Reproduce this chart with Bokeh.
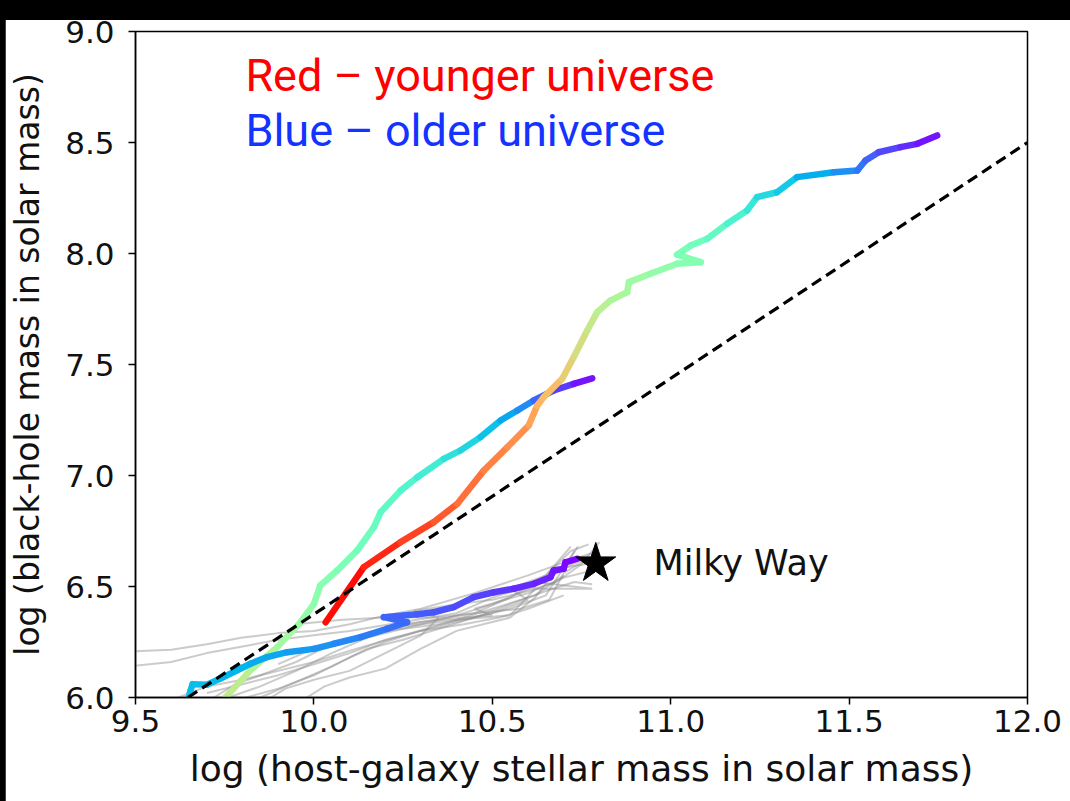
import math
from bokeh.plotting import figure
from bokeh.models import Label, Spacer, FixedTicker, PrintfTickFormatter, InlineStyleSheet
from bokeh.layouts import row
from bokeh.embed import file_html
from bokeh.resources import INLINE

# ---------------- data ----------------
x_ticks = [9.5, 10.0, 10.5, 11.0, 11.5, 12.0]
y_ticks = [6.0, 6.5, 7.0, 7.5, 8.0, 8.5, 9.0]

# track 1: red start -> purple end (largest galaxy)
t1_x = [10.033, 10.140, 10.243, 10.336, 10.402, 10.476, 10.542, 10.602, 10.626, 10.644,
        10.696, 10.728, 10.766, 10.794, 10.831, 10.878, 10.883, 10.943, 11.018, 11.084,
        11.018, 11.056, 11.102, 11.158, 11.214, 11.242, 11.298, 11.354, 11.457, 11.523,
        11.546, 11.583, 11.644, 11.691, 11.747]
t1_y = [6.339, 6.587, 6.700, 6.790, 6.873, 7.022, 7.127, 7.225, 7.315, 7.353,
        7.436, 7.533, 7.653, 7.736, 7.788, 7.826, 7.871, 7.909, 7.954, 7.961,
        7.995, 8.036, 8.066, 8.134, 8.194, 8.254, 8.276, 8.344, 8.366, 8.374,
        8.419, 8.456, 8.479, 8.494, 8.532]
t1_age = [1.0, 0.97, 0.93, 0.90, 0.87, 0.84, 0.82, 0.80, 0.76, 0.74,
          0.72, 0.68, 0.65, 0.62, 0.60, 0.58, 0.57, 0.55, 0.52, 0.51,
          0.50, 0.48, 0.46, 0.42, 0.38, 0.34, 0.31, 0.27, 0.21, 0.17,
          0.14, 0.11, 0.07, 0.04, 0.01]

# track 2: green from the bottom -> purple
t2_x = [9.744, 9.752, 9.822, 9.897, 9.962, 10.0, 10.018, 10.065, 10.121, 10.168,
        10.187, 10.243, 10.29, 10.364, 10.411, 10.467, 10.523, 10.57, 10.616, 10.672,
        10.728, 10.78]
t2_y = [5.964, 6.0, 6.122, 6.227, 6.338, 6.422, 6.505, 6.572, 6.662, 6.767,
        6.835, 6.932, 6.992, 7.075, 7.113, 7.173, 7.248, 7.293, 7.338, 7.383,
        7.413, 7.438]
t2_age = [0.65, 0.64, 0.61, 0.58, 0.55, 0.53, 0.52, 0.50, 0.48, 0.46,
          0.45, 0.42, 0.40, 0.36, 0.33, 0.30, 0.25, 0.21, 0.16, 0.10,
          0.05, 0.0]

# track 3: lower blue -> purple (Milky-Way-like)
t3_x = [9.645, 9.649, 9.654, 9.660, 9.70, 9.738, 9.822, 9.869, 9.925, 10.0,
        10.056, 10.131, 10.205, 10.261, 10.196, 10.29, 10.336, 10.392, 10.448, 10.504,
        10.56, 10.616, 10.663, 10.672, 10.70, 10.705, 10.738]
t3_y = [5.99, 6.001, 6.030, 6.060, 6.058, 6.085, 6.152, 6.182, 6.204, 6.219,
        6.242, 6.272, 6.309, 6.339, 6.362, 6.375, 6.384, 6.407, 6.452, 6.474,
        6.490, 6.512, 6.542, 6.572, 6.580, 6.609, 6.625]
t3_age = [0.28, 0.28, 0.27, 0.27, 0.26, 0.26, 0.24, 0.23, 0.22, 0.20,
          0.19, 0.17, 0.15, 0.14, 0.13, 0.12, 0.11, 0.10, 0.09, 0.08,
          0.06, 0.05, 0.04, 0.03, 0.02, 0.01, 0.0]

# grey tracks (other Milky-Way analogues)
grey_x = [
    [9.45, 9.6, 9.7, 9.8, 9.9, 10.0, 10.1, 10.2, 10.3, 10.45, 10.6, 10.72, 10.78],
    [9.45, 9.6, 9.7, 9.8, 9.9, 10.0, 10.1, 10.25, 10.4, 10.5, 10.6, 10.7, 10.75],
    [9.76, 9.85, 9.95, 10.05, 10.15, 10.3, 10.4, 10.5, 10.62, 10.7, 10.74],
    [9.81, 9.9, 10.0, 10.1, 10.2, 10.3, 10.45, 10.55, 10.65, 10.73, 10.78],
    [9.88, 9.92, 10.0, 10.1, 10.2, 10.3, 10.35, 10.45, 10.55, 10.65, 10.72],
    [9.98, 10.03, 10.1, 10.2, 10.3, 10.4, 10.5, 10.55, 10.62, 10.68, 10.76],
    [9.95, 10.08, 10.2, 10.35, 10.28, 10.4, 10.5, 10.6, 10.68, 10.75, 10.8],
    [9.7, 9.8, 9.9, 10.0, 10.1, 10.2, 10.3, 10.42, 10.52, 10.6, 10.7],
    [9.72, 9.78, 9.85, 9.95, 10.05, 10.15, 10.25, 10.4, 10.55, 10.62, 10.78, 10.62],
    [10.1, 10.2, 10.35, 10.5, 10.6, 10.55, 10.65, 10.72, 10.77],
    [9.9, 10.0, 10.1, 10.18, 10.3, 10.45, 10.58, 10.66, 10.7, 10.76],
    [9.62, 9.7, 9.8, 9.9, 10.0, 10.12, 10.25, 10.38, 10.5, 10.62, 10.7],
    [10.2, 10.3, 10.42, 10.5, 10.45, 10.6, 10.7, 10.8],
    [9.85, 9.95, 10.05, 10.15, 10.25, 10.35, 10.45, 10.55, 10.65, 10.73],
]
grey_y = [
    [6.205, 6.215, 6.24, 6.27, 6.29, 6.30, 6.33, 6.37, 6.40, 6.47, 6.55, 6.62, 6.65],
    [6.135, 6.16, 6.20, 6.23, 6.26, 6.28, 6.30, 6.34, 6.38, 6.45, 6.50, 6.58, 6.62],
    [6.0, 6.05, 6.12, 6.20, 6.27, 6.33, 6.37, 6.42, 6.50, 6.58, 6.68],
    [6.0, 6.04, 6.10, 6.18, 6.25, 6.30, 6.36, 6.42, 6.48, 6.52, 6.51],
    [6.0, 6.04, 6.08, 6.12, 6.20, 6.28, 6.36, 6.38, 6.45, 6.55, 6.68],
    [6.0, 6.05, 6.09, 6.13, 6.22, 6.30, 6.34, 6.36, 6.45, 6.58, 6.60],
    [6.33, 6.35, 6.36, 6.36, 6.39, 6.42, 6.44, 6.48, 6.52, 6.60, 6.70],
    [6.02, 6.06, 6.10, 6.15, 6.20, 6.26, 6.30, 6.33, 6.36, 6.40, 6.46],
    [6.0, 6.06, 6.10, 6.16, 6.24, 6.28, 6.32, 6.35, 6.37, 6.49, 6.49, 6.52],
    [6.25, 6.30, 6.33, 6.38, 6.44, 6.49, 6.55, 6.66, 6.69],
    [6.15, 6.22, 6.26, 6.30, 6.34, 6.38, 6.40, 6.44, 6.56, 6.62],
    [6.0, 6.05, 6.08, 6.12, 6.16, 6.22, 6.28, 6.34, 6.40, 6.46, 6.55],
    [6.32, 6.34, 6.36, 6.37, 6.40, 6.47, 6.54, 6.58],
    [6.0, 6.07, 6.14, 6.22, 6.26, 6.31, 6.36, 6.40, 6.46, 6.66],
]

# dashed reference relation
ref_x = [9.647, 12.0]
ref_y = [6.0, 8.5]

# Milky Way
mw_x = [10.79]
mw_y = [6.604]
mw_label = "Milky Way"

# annotations
note_x = [9.808, 9.808]
note_y = [8.80, 8.555]
note_text = ["Red \u2013 younger universe", "Blue \u2013 older universe"]
note_color = ["#ff0000", "#1433ff"]


def rainbow(t):
    r = min(1.0, abs(2 * t - 0.5))
    g = math.sin(math.pi * t)
    b = math.cos(math.pi * t / 2)
    return "#%02x%02x%02x" % (int(round(r * 255)), int(round(max(g, 0) * 255)), int(round(max(b, 0) * 255)))


# ---------------- figure ----------------
p = figure(width=1065, height=801, x_range=(9.5, 12.0), y_range=(6.0, 9.0),
           output_backend="svg", toolbar_location=None,
           min_border_left=130, min_border_right=43, min_border_top=31, min_border_bottom=104)
p.background_fill_color = "white"
p.border_fill_color = "white"
p.outline_line_color = "black"
p.outline_line_width = 1.5
p.grid.visible = False

for ax in (p.xaxis, p.yaxis):
    ax.axis_line_width = 1.5
    ax.major_tick_line_width = 1.5
    ax.major_tick_out = 7
    ax.major_tick_in = 0
    ax.minor_tick_line_color = None
    ax.major_label_text_font = "DejaVu Sans"
    ax.major_label_text_font_size = "31px"
    ax.major_label_text_color = "#111111"
    ax.axis_label_text_font = "DejaVu Sans"
    ax.axis_label_text_font_style = "normal"
    ax.axis_label_text_color = "#111111"
    ax.formatter = PrintfTickFormatter(format="%.1f")

p.xaxis.axis_label_text_font_size = "36px"
p.yaxis.axis_label_text_font_size = "33px"
p.xaxis.ticker = FixedTicker(ticks=x_ticks)
p.yaxis.ticker = FixedTicker(ticks=y_ticks)
p.xaxis.axis_label = "log (host-galaxy stellar mass in solar mass)"
p.yaxis.axis_label = "log (black-hole mass in solar mass)"
p.xaxis.major_label_standoff = 5
p.yaxis.major_label_standoff = 14
p.xaxis.axis_label_standoff = 13
p.yaxis.axis_label_standoff = 15

# grey tracks
p.multi_line(grey_x, grey_y, line_color="#8c8c8c", line_alpha=0.45, line_width=2)

# coloured tracks, segment by segment
for xs, ys, ages in ((t2_x, t2_y, t2_age), (t3_x, t3_y, t3_age), (t1_x, t1_y, t1_age)):
    cols = [rainbow((ages[i] + ages[i + 1]) / 2) for i in range(len(xs) - 1)]
    p.segment(x0=xs[:-1], y0=ys[:-1], x1=xs[1:], y1=ys[1:], line_color=cols,
              line_width=6.5, line_cap="round")

# dashed relation
p.line(ref_x, ref_y, line_color="black", line_width=3.2, line_dash="11 6")

# Milky Way star
p.scatter(mw_x, mw_y, marker="star", size=42, fill_color="black", line_color="black")
p.add_layout(Label(x=10.952, y=mw_y[0], text=mw_label, text_font="DejaVu Sans",
                   text_font_size="35px", text_color="#111111", text_baseline="middle"))

for nx, ny, nt, nc in zip(note_x, note_y, note_text, note_color):
    p.add_layout(Label(x=nx, y=ny, text=nt, text_font="Roboto", text_font_size="45px",
                       text_color=nc, text_baseline="alphabetic"))

# black strip along the top of the picture (screenshot frame), drawn as a CSS overlay
p.stylesheets = [InlineStyleSheet(css=(
    ":host { position: relative; }"
    ":host::after { content: ''; position: absolute; left: 0; top: 0; width: 100%;"
    " height: 20px; background: black; z-index: 100; pointer-events: none; }"
))]

layout = row(Spacer(width=5, height=801, styles={"background-color": "black"}), p,
             styles={"background-color": "black"})

open("out.html", "w").write(file_html(layout, INLINE))
